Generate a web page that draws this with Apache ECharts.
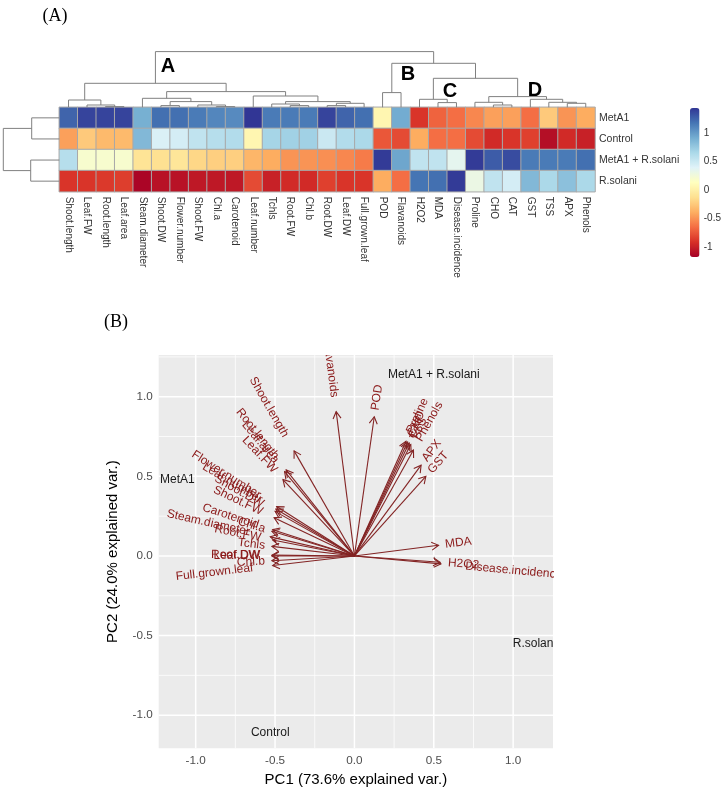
<!DOCTYPE html>
<html><head><meta charset="utf-8">
<script src="https://cdn.jsdelivr.net/npm/echarts@6/dist/echarts.min.js"></script>
<style>html,body{margin:0;padding:0;background:#fff}#c{width:724px;height:791px}</style>
</head><body><div id="c"></div>
<script>
// ---------- Heatmap data (columns in dendrogram order) ----------
const variables = ['Shoot.length','Leaf.FW','Root.length','Leaf.area','Steam.diameter','Shoot.DW','Flower.number','Shoot.FW','Chl.a','Carotenoid','Leaf.number','Tchls','Root.FW','Chl.b','Root.DW','Leaf.DW','Full.grown.leaf','POD','Flavanoids','H2O2','MDA','Disease.incidence','Proline','CHO','CAT','GST','TSS','APX','Phenols'];
const treatments = ['MetA1','Control','MetA1 + R.solani','R.solani'];
const zMetA1        = [1.25,1.38,1.38,1.38,0.9,1.2,1.2,1.15,1.1,1.08,1.44,1.15,1.15,1.15,1.38,1.25,1.2,0.05,0.92,-0.9,-0.7,-0.65,-0.55,-0.45,-0.45,-0.65,-0.25,-0.5,-0.4];
const zControl      = [-0.45,-0.25,-0.33,-0.33,0.85,0.42,0.45,0.55,0.6,0.62,0.05,0.68,0.7,0.7,0.5,0.62,0.65,-0.75,-0.8,-0.4,-0.65,-0.65,-0.8,-0.95,-0.9,-0.85,-1.1,-0.95,-1.0];
const zMetA1Rsolani = [0.6,0.2,0.2,0.2,-0.1,-0.12,-0.08,-0.18,-0.22,-0.22,-0.35,-0.4,-0.5,-0.5,-0.52,-0.55,-0.6,1.42,0.95,0.55,0.55,0.35,1.42,1.28,1.35,1.15,1.15,1.15,1.2];
const zRsolani      = [-0.9,-0.9,-0.88,-0.86,-1.15,-1.08,-1.08,-1.05,-1.05,-1.05,-0.8,-1.0,-0.95,-0.95,-0.85,-0.9,-0.9,-0.4,-0.65,1.18,1.2,1.42,0.3,0.55,0.45,0.85,0.65,0.8,0.65];
const colorbarTicks = [-1, -0.5, 0, 0.5, 1];
const colorMin = -1.18, colorMax = 1.44;

// ---------- Dendrograms: [left, right, mergeHeight], leaves = column / row index ----------
const colTree = [
  [[0, [1, [2, 3, 0.7], 2.3], 7.3],
   [[4, [[5, 6, 1.7], [7, [8, 9, 0.7], 2.3], 5.7], 9],
    [10, [[11, [12, 13, 1.7], 3.3], [[14, 15, 1.7], 16, 4], 5.7], 11.3], 15.7], 24],
  [[17, 18, 14.7],
   [[19, [20, 21, 4.7], 8],
    [[22, [23, 24, 2.3], 5], [25, [26, [27, 28, 4], 5], 8], 10.7], 29], 44],
  55.7];
const rowTree = [[0, 1, 27.6], [2, 3, 28.6], 56];

// ---------- PCA biplot data ----------
const loadVars = ['Shoot.length','Root.length','Leaf.area','Leaf.FW','Flower.number','Leaf.number','Shoot.DW','Shoot.FW','Carotenoid','Chl.a','Steam.diameter','Root.FW','Tchls','Root.DW','Leaf.DW','Chl.b','Full.grown.leaf','Flavanoids','POD','Proline','CHO','CAT','TSS','Phenols','APX','GST','MDA','H2O2','Disease.incidence'];
const loadPC1 = [-0.38,-0.43,-0.44,-0.45,-0.49,-0.495,-0.50,-0.506,-0.515,-0.52,-0.53,-0.515,-0.52,-0.52,-0.52,-0.52,-0.515,-0.115,0.125,0.325,0.335,0.345,0.355,0.372,0.42,0.45,0.53,0.54,0.545];
const loadPC2 = [0.66,0.54,0.53,0.48,0.31,0.295,0.28,0.24,0.165,0.155,0.12,0.10,0.06,0.005,0.0,-0.03,-0.06,0.906,0.874,0.72,0.715,0.71,0.70,0.665,0.57,0.50,0.067,-0.04,-0.05];
const obsNames = ['MetA1 + R.solani','MetA1','R.solani','Control'];
const obsPC1 = [0.50,-1.115,1.134,-0.53];
const obsPC2 = [1.14,0.48,-0.55,-1.107];
const pcBreaks = [-1, -0.5, 0, 0.5, 1];
const pcMinorX = [-0.75, -0.25, 0.25, 0.75];
const pcMinorY = [-0.75, -0.25, 0.25, 0.75, 1.25];
const pcXRange = [-1.233, 1.251], pcYRange = [-1.208, 1.262];

// ---------- helpers ----------
const SANS = '"Liberation Sans", Arial, Helvetica, sans-serif';
const palette = ['#a50026','#d73027','#f46d43','#fdae61','#fee090','#ffffbf','#e0f3f8','#abd9e9','#74add1','#4575b4','#313695'];
const arrowColor = '#832424', varTextColor = '#8B1A1A';

function dendroSegments(tree) {
  const segs = [];
  function walk(n) {
    if (typeof n === 'number') return {pos: n + 0.5, h: 0};
    const a = walk(n[0]), b = walk(n[1]), h = n[2];
    segs.push([a.pos, a.h, a.pos, h]);
    segs.push([b.pos, b.h, b.pos, h]);
    segs.push([a.pos, h, b.pos, h]);
    return {pos: (a.pos + b.pos) / 2, h: h};
  }
  walk(tree);
  return segs;
}
const colSegs = dendroSegments(colTree);
const rowSegs = dendroSegments(rowTree).map(s => [s[1], s[0], s[3], s[2]]);

const heatRows = [zMetA1, zControl, zMetA1Rsolani, zRsolani];
const heatData = [];
heatRows.forEach((row, r) => row.forEach((v, c) => heatData.push([c, r, v])));

const mctx = document.createElement('canvas').getContext('2d');
mctx.font = '12px ' + SANS;
function textW(s) { return mctx.measureText(s).width; }

function segRender(params, api) {
  const p1 = api.coord([api.value(0), api.value(1)]);
  const p2 = api.coord([api.value(2), api.value(3)]);
  return {type: 'line', shape: {x1: p1[0], y1: p1[1], x2: p2[0], y2: p2[1]},
          style: {stroke: '#808080', lineWidth: 1}};
}

const gridData = [];
pcBreaks.forEach(v => { gridData.push([v, 0, 1]); gridData.push([v, 1, 1]); });
pcMinorX.forEach(v => gridData.push([v, 0, 0]));
pcMinorY.forEach(v => gridData.push([v, 1, 0]));

const chart = echarts.init(document.getElementById('c'), null, {renderer: 'canvas'});
chart.setOption({
  animation: false,
  backgroundColor: '#ffffff',
  grid: [
    {left: 59.3, top: 107.3, width: 535.7, height: 84.4},
    {left: 59.3, top: 47.3, width: 535.7, height: 60},
    {left: 3.3, top: 107.3, width: 56, height: 84.4},
    {left: 690, top: 108, width: 9.5, height: 149},
    {left: 158.7, top: 355, width: 394.3, height: 393.3, show: true, backgroundColor: '#EBEBEB', borderWidth: 0}
  ],
  xAxis: [
    {gridIndex: 0, type: 'category', data: variables, axisLine: {show: false}, axisTick: {show: false},
     splitLine: {show: false},
     axisLabel: {rotate: -90, interval: 0, fontSize: 10, color: '#333', margin: 5, fontFamily: SANS}},
    {gridIndex: 1, type: 'value', min: 0, max: variables.length, show: false},
    {gridIndex: 2, type: 'value', min: 0, max: 56, inverse: true, show: false},
    {gridIndex: 3, type: 'value', min: 0, max: 1, show: false},
    {gridIndex: 4, type: 'value', min: pcXRange[0], max: pcXRange[1],
     splitLine: {show: false}, axisLine: {show: false},
     axisTick: {show: true, customValues: pcBreaks, length: 3.7, lineStyle: {color: '#333', width: 1}},
     axisLabel: {customValues: pcBreaks, formatter: v => v.toFixed(1), fontSize: 11.7, color: '#4D4D4D', margin: 6, fontFamily: SANS},
     name: 'PC1 (73.6% explained var.)', nameLocation: 'middle', nameGap: 24,
     nameTextStyle: {fontSize: 15, color: '#000', fontFamily: SANS}}
  ],
  yAxis: [
    {gridIndex: 0, type: 'category', data: treatments, inverse: true, position: 'right',
     axisLine: {show: false}, axisTick: {show: false}, splitLine: {show: false},
     axisLabel: {fontSize: 10.5, color: '#333', margin: 4, fontFamily: SANS}},
    {gridIndex: 1, type: 'value', min: 0, max: 60, show: false},
    {gridIndex: 2, type: 'value', min: 0, max: treatments.length, inverse: true, show: false},
    {gridIndex: 3, type: 'value', min: colorMin, max: colorMax, position: 'right',
     axisLine: {show: false}, axisTick: {show: false}, splitLine: {show: false},
     axisLabel: {customValues: colorbarTicks, formatter: v => String(v), fontSize: 10, color: '#333', margin: 5, fontFamily: SANS}},
    {gridIndex: 4, type: 'value', min: pcYRange[0], max: pcYRange[1],
     splitLine: {show: false}, axisLine: {show: false},
     axisTick: {show: true, customValues: pcBreaks, length: 3.7, lineStyle: {color: '#333', width: 1}},
     axisLabel: {customValues: pcBreaks, formatter: v => v.toFixed(1), fontSize: 11.7, color: '#4D4D4D', margin: 6, fontFamily: SANS},
     name: 'PC2 (24.0% explained var.)', nameLocation: 'middle', nameGap: 38,
     nameTextStyle: {fontSize: 15, color: '#000', fontFamily: SANS}}
  ],
  visualMap: {
    type: 'continuous', seriesIndex: 0, min: colorMin, max: colorMax, orient: 'vertical',
    left: 690, top: 108, itemWidth: 9.5, itemHeight: 149, padding: 0,
    calculable: false, hoverLink: false, inRange: {color: palette}
  },
  series: [
    {type: 'heatmap', xAxisIndex: 0, yAxisIndex: 0, data: heatData,
     itemStyle: {borderColor: '#a8a8a8', borderWidth: 1}, emphasis: {disabled: true}, silent: true},
    {type: 'custom', xAxisIndex: 1, yAxisIndex: 1, data: colSegs, renderItem: segRender, silent: true},
    {type: 'custom', xAxisIndex: 2, yAxisIndex: 2, data: rowSegs, renderItem: segRender, silent: true},
    // biplot grid lines
    {type: 'custom', xAxisIndex: 4, yAxisIndex: 4, data: gridData, silent: true, z: 1, clip: true,
     renderItem: function (params, api) {
       const v = api.value(0), dir = api.value(1), major = api.value(2);
       let p1, p2;
       if (dir === 0) { p1 = api.coord([v, pcYRange[0]]); p2 = api.coord([v, pcYRange[1]]); }
       else { p1 = api.coord([pcXRange[0], v]); p2 = api.coord([pcXRange[1], v]); }
       return {type: 'line', shape: {x1: p1[0], y1: p1[1], x2: p2[0], y2: p2[1]},
               style: {stroke: '#ffffff', lineWidth: major ? 1.5 : 0.75}};
     }},
    // loading arrows + labels
    {type: 'custom', xAxisIndex: 4, yAxisIndex: 4, silent: true, z: 3, clip: true,
     data: loadPC1.map((v, i) => [v, loadPC2[i]]),
     renderItem: function (params, api) {
       const i = params.dataIndex;
       const x = loadPC1[i], y = loadPC2[i];
       const o = api.coord([0, 0]), t = api.coord([x, y]);
       const ang = Math.atan2(t[1] - o[1], t[0] - o[0]);
       const L = 8, a = Math.PI / 6;
       const h1 = [t[0] - L * Math.cos(ang - a), t[1] - L * Math.sin(ang - a)];
       const h2 = [t[0] - L * Math.cos(ang + a), t[1] - L * Math.sin(ang + a)];
       const theta = Math.atan(y / x);
       const w = textW(loadVars[i]);
       const left = x < 0;
       return {type: 'group', children: [
         {type: 'line', shape: {x1: o[0], y1: o[1], x2: t[0], y2: t[1]}, style: {stroke: arrowColor, lineWidth: 1.1}},
         {type: 'polyline', shape: {points: [h1, t, h2]}, style: {stroke: arrowColor, lineWidth: 1.1, fill: null}},
         {type: 'text', x: t[0], y: t[1], rotation: theta,
          style: {text: loadVars[i], x: left ? -0.25 * w : 0.25 * w, y: 0, align: left ? 'right' : 'left',
                  verticalAlign: 'middle', fontSize: 12, fontFamily: SANS, fill: varTextColor}}
       ]};
     }},
    // observation labels
    {type: 'custom', xAxisIndex: 4, yAxisIndex: 4, silent: true, z: 4, clip: true,
     data: obsPC1.map((v, i) => [v, obsPC2[i]]),
     renderItem: function (params, api) {
       const i = params.dataIndex;
       const p = api.coord([obsPC1[i], obsPC2[i]]);
       return {type: 'text', x: p[0], y: p[1],
               style: {text: obsNames[i], align: 'center', verticalAlign: 'middle', fontSize: 12, fontFamily: SANS, fill: '#1a1a1a'}};
     }}
  ],
  graphic: [
    {type: 'text', x: 55, y: 16, style: {text: '(A)', font: '18px "Liberation Serif", "Times New Roman", serif', fill: '#000', align: 'center', verticalAlign: 'middle', textAlign: 'center', textVerticalAlign: 'middle'}},
    {type: 'text', x: 116, y: 322, style: {text: '(B)', font: '18px "Liberation Serif", "Times New Roman", serif', fill: '#000', align: 'center', verticalAlign: 'middle', textAlign: 'center', textVerticalAlign: 'middle'}},
    {type: 'text', x: 168, y: 66, style: {text: 'A', font: 'bold 20px ' + SANS, fill: '#000', align: 'center', verticalAlign: 'middle', textAlign: 'center', textVerticalAlign: 'middle'}},
    {type: 'text', x: 408, y: 74, style: {text: 'B', font: 'bold 20px ' + SANS, fill: '#000', align: 'center', verticalAlign: 'middle', textAlign: 'center', textVerticalAlign: 'middle'}},
    {type: 'text', x: 450, y: 91, style: {text: 'C', font: 'bold 20px ' + SANS, fill: '#000', align: 'center', verticalAlign: 'middle', textAlign: 'center', textVerticalAlign: 'middle'}},
    {type: 'text', x: 535, y: 90, style: {text: 'D', font: 'bold 20px ' + SANS, fill: '#000', align: 'center', verticalAlign: 'middle', textAlign: 'center', textVerticalAlign: 'middle'}}
  ]
});
</script>
</body></html>
